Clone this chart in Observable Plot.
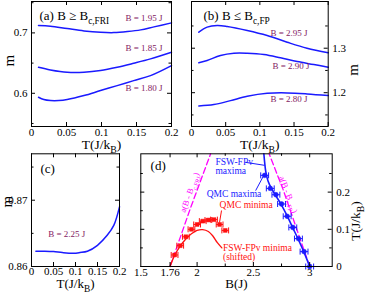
<!DOCTYPE html>
<html><head><meta charset="utf-8">
<script src="https://cdn.jsdelivr.net/npm/d3@7"></script>
<script src="https://cdn.jsdelivr.net/npm/@observablehq/plot@0.6"></script>
<style>
body{margin:0;background:#fff;}
#wrap{position:relative;width:366px;height:294px;overflow:hidden;background:#fff;}
.panel{position:absolute;}
.panel svg{display:block;font-family:"Liberation Serif","Times New Roman",Times,serif !important;font-size:11px;background:transparent !important;overflow:visible;}
.panel svg text{font-family:"Liberation Serif","Times New Roman",Times,serif !important;}
</style></head><body><div id="wrap"></div>
<script>
// ---------- data ----------
const tickT = [0, 0.05, 0.1, 0.15, 0.2];

// panel (a): m vs T
const a195 = [[0.01,0.7121],[0.027,0.711],[0.051,0.7071],[0.075,0.7033],[0.0986,0.701],[0.1176,0.7005],[0.137,0.7022],[0.156,0.705],[0.175,0.710],[0.2,0.7166]];
const a185 = [[0.01,0.643],[0.027,0.6387],[0.051,0.6348],[0.075,0.6348],[0.0986,0.6376],[0.1224,0.643],[0.146,0.6497],[0.17,0.657],[0.2,0.6679]];
const a180 = [[0.01,0.5934],[0.0176,0.5896],[0.0271,0.5879],[0.039,0.5879],[0.051,0.5896],[0.075,0.5962],[0.0986,0.6045],[0.1224,0.6127],[0.146,0.621],[0.17,0.6293],[0.2,0.6459]];
const aLabels = [{x:0.1343,y:0.7237,text:"B = 1.95 J"},{x:0.1343,y:0.674,text:"B = 1.85 J"},{x:0.1343,y:0.6094,text:"B = 1.80 J"}];
const aTitle = [{x:0.0114,y:0.7286,text:"(a) B ≥ B_{c,FRI}"}];

// panel (b)
const b295 = [[0.0107,1.336],[0.0229,1.3473],[0.0376,1.3511],[0.0522,1.3489],[0.0815,1.3399],[0.1107,1.3286],[0.14,1.3135],[0.169,1.3],[0.2,1.2896]];
const b290 = [[0.0107,1.2671],[0.0229,1.2723],[0.0424,1.2836],[0.062,1.2887],[0.0815,1.2887],[0.1059,1.2858],[0.1302,1.2784],[0.1546,1.27],[0.179,1.2633],[0.2,1.2572]];
const b280 = [[0.0107,1.1703],[0.0327,1.1732],[0.0571,1.1822],[0.0815,1.1919],[0.1107,1.1986],[0.14,1.1995],[0.169,1.1973],[0.2,1.1935]];
const bLabels = [{x:0.1156,y:1.3347,text:"B = 2.95 J"},{x:0.1185,y:1.2588,text:"B = 2.90 J"},{x:0.1156,y:1.1845,text:"B = 2.80 J"}];
const bTitle = [{x:0.0176,y:1.3736,text:"(b) B ≤ B_{c,FP}"}];

// panel (c)
const c225 = [[0.01,0.8623],[0.03,0.8623],[0.05,0.86225],[0.07,0.8621],[0.095,0.862],[0.11,0.8621],[0.127,0.8623],[0.15,0.8632],[0.172,0.8647],[0.187,0.8662],[0.2,0.869]];
const cLabels = [{x:0.038,y:0.8649,text:"B = 2.25 J"}];
const cTitle = [{x:0.0205,y:0.8747,text:"(c)"}];

// panel (d): T vs B
const fswMax = [[3.0,0],[2.95,0.038],[2.9,0.072],[2.85,0.104],[2.8,0.136],[2.75,0.165],[2.7,0.19],[2.66,0.21],[2.63,0.23],[2.61,0.255],[2.6,0.28],[2.593,0.303]];
const qmcMax = [[2.6,0.245],[2.65,0.21],[2.7,0.193],[2.75,0.168],[2.8,0.135],[2.85,0.105],[2.9,0.075],[2.95,0.04],[3.0,0]];
const qmcMaxErr = 0.035;
const fswMin = [[1.76,0],[1.8,0.03],[1.85,0.055],[1.9,0.074],[1.95,0.088],[2.0,0.097],[2.05,0.099],[2.1,0.094],[2.14,0.082],[2.18,0.064],[2.22,0.05]];
const qmcMin = [[1.8,0.031],[1.85,0.056],[1.9,0.08],[1.95,0.1],[2.0,0.113],[2.05,0.122],[2.1,0.125],[2.15,0.126],[2.2,0.113],[2.25,0.097]];
const qmcMinErr = 0.03;
const dashFRI = [[1.76,0],[1.94,0.156],[2.12,0.303]];
const dashFP = [[3.0,0],[2.889,0.097],[2.765,0.206],[2.64,0.303]];
const dLeadersBlue = [{x1:2.43,y1:0.28,x2:2.6,y2:0.272},{x1:2.52,y1:0.204,x2:2.587,y2:0.242}];
const dLeadersRed = [{x1:2.217,y1:0.1505,x2:2.199,y2:0.118}];
const dTextBlue = [{x:2.163,y:0.2683,text:"FSW-FPv\nmaxima"},{x:2.085,y:0.1954,text:"QMC maxima"}];
const dTextRed = [{x:2.2,y:0.164,text:"QMC minima"},{x:2.23,y:0.0376,text:"FSW-FPv minima\n(shifted)"}];
const dTextMagL = [{x:1.935,y:0.199,text:"a(B - B_{c,FRI})"}];
const dTextMagR = [{x:2.81,y:0.1935,text:"a(B - B_{c,FP})"}];
const dTitle = [{x:1.587,y:0.2715,text:"(d)"}];
const dXLabels = [1.5, 1.76, 2, 2.5, 3];

// ---------- styling ----------
const FONT = "Liberation Serif";
const BLUE = "#1a1aff", RED = "#ff1010", MAG = "#ff00ff", PURP = "#84205f";
const wrap = document.getElementById("wrap");

function richify(root) {
  const NS = "http://www.w3.org/2000/svg";
  root.querySelectorAll("text").forEach(t => {
    const s = t.textContent;
    if (!/[_^]\{/.test(s)) return;
    t.textContent = "";
    const re = /([_^])\{([^}]*)\}/g;
    let last = 0, m, back = null;
    const add = (str, attrs) => {
      const ts = document.createElementNS(NS, "tspan");
      for (const k in attrs) ts.setAttribute(k, attrs[k]);
      ts.textContent = str;
      t.appendChild(ts);
    };
    while ((m = re.exec(s))) {
      const before = s.slice(last, m.index);
      if (before) { add(before, back ? {dy: back} : {}); back = null; }
      const sh = m[1] === "_" ? 0.3 : -0.4;
      add(m[2], {"font-size": "72%", dy: (sh / 0.72).toFixed(3) + "em"});
      back = (-sh) + "em";
      last = re.lastIndex;
    }
    if (last < s.length) add(s.slice(last), back ? {dy: back} : {});
  });
}

const vbar = {draw(ctx, size) { const h = Math.sqrt(size / Math.PI); ctx.moveTo(0, -h); ctx.lineTo(0, h); }};
const X = d => d[0], Y = d => d[1];

function makePanel(o) {
  const fw = o.width - o.ml - o.mr, fh = o.height - o.mt - o.mb;
  const ticks = [];
  const MAJ = 4, MIN = 2.5;
  [[o.xMajor, MAJ], [o.xMinor || [], MIN]].forEach(([arr, len]) => {
    if (!arr.length) return;
    ticks.push(Plot.tickX(arr, {x: d => d, insetTop: fh - len, stroke: "black"}));
    ticks.push(Plot.tickX(arr, {x: d => d, insetBottom: fh - len, stroke: "black"}));
  });
  [[o.yMajor, MAJ], [o.yMinor || [], MIN]].forEach(([arr, len]) => {
    if (!arr.length) return;
    ticks.push(Plot.tickY(arr, {y: d => d, insetRight: fw - len, stroke: "black"}));
    ticks.push(Plot.tickY(arr, {y: d => d, insetLeft: fw - len, stroke: "black"}));
  });
  const svg = Plot.plot({
    width: o.width, height: o.height,
    marginTop: o.mt, marginRight: o.mr, marginBottom: o.mb, marginLeft: o.ml,
    style: {fontFamily: FONT, fontSize: "11px", background: "transparent", color: "black", overflow: "visible"},
    x: {domain: o.xDomain, ticks: o.xLabels, tickSize: 0, tickPadding: o.xPad ?? 2, tickFormat: d => String(d), label: null},
    y: {domain: o.yDomain, ticks: o.yLabels, tickSize: 0, tickPadding: 4, tickFormat: d => String(d), label: null, axis: o.yAxis},
    marks: [...o.marks, ...ticks, Plot.frame({stroke: "black"})]
  });
  richify(svg);
  const div = document.createElement("div");
  div.className = "panel";
  div.style.left = o.left + "px";
  div.style.top = o.top + "px";
  div.appendChild(svg);
  wrap.appendChild(div);
}

const curve = (data) => Plot.line(data, {x: X, y: Y, stroke: BLUE, strokeWidth: 1.5, curve: "catmull-rom"});
const curveLabels = (data) => Plot.text(data, {x: "x", y: "y", text: "text", textAnchor: "start", fill: PURP, fontSize: 9, lineAnchor: "middle"});
const titleText = (data) => Plot.text(data, {x: "x", y: "y", text: "text", textAnchor: "start", fill: "black", fontSize: 13, lineAnchor: "middle"});
const xTitle = (s, dy, fs) => Plot.text([s], {text: d => d, frameAnchor: "bottom", dy, fontSize: fs, lineAnchor: "middle", fill: "black"});
const yTitle = (s, anchor, dx, dy, fs) => Plot.text([s], {text: d => d, frameAnchor: anchor, dx, dy, rotate: -90, fontSize: fs, lineAnchor: "middle", fill: "black"});

// (a)
makePanel({left: 0, top: 0, width: 180, height: 152, mt: 1, mr: 9, mb: 26, ml: 31,
  xDomain: [0, 0.2], yDomain: [0.545, 0.752], xLabels: tickT, xMajor: tickT,
  yLabels: [0.6, 0.7], yMajor: [0.6, 0.7], yMinor: [0.55, 0.65, 0.75], yAxis: "left",
  marks: [curve(a195), curve(a185), curve(a180), curveLabels(aLabels), titleText(aTitle),
    xTitle("T(J/k_{B})", 18, 13.5), yTitle("m", "left", -22.5, 2.5, 15)]});

// (b)
makePanel({left: 180, top: 0, width: 186, height: 152, mt: 1, mr: 38.3, mb: 26, ml: 11,
  xDomain: [0, 0.2], yDomain: [1.124, 1.405], xLabels: tickT, xMajor: tickT,
  yLabels: [1.2, 1.3], yMajor: [1.2, 1.3], yMinor: [1.15, 1.25, 1.35], yAxis: "right",
  marks: [curve(b295), curve(b290), curve(b280), curveLabels(bLabels), titleText(bTitle),
    xTitle("T(J/k_{B})", 18, 13.5), yTitle("m", "right", 24.8, 0, 15)]});

// (c)
makePanel({left: 0, top: 140, width: 130, height: 154, mt: 13.3, mr: 11, mb: 28, ml: 31, xPad: 1,
  xDomain: [0, 0.2], yDomain: [0.86, 0.877], xLabels: tickT, xMajor: tickT,
  yLabels: [0.86, 0.87], yMajor: [0.86, 0.87], yMinor: [0.865, 0.875], yAxis: "left",
  marks: [curve(c225), curveLabels(cLabels), titleText(cTitle),
    xTitle("T(J/k_{B})", 17.5, 13), yTitle("m", "left", -24.5, -2.6, 15)]});

// (d)
makePanel({left: 130, top: 140, width: 236, height: 154, mt: 13.3, mr: 34.3, mb: 28, ml: 10.3,
  xDomain: [1.5, 3.2], yDomain: [0, 0.303], xLabels: dXLabels, xMajor: [1.76, 2, 2.5, 3], xMinor: [2.25, 2.75],
  yLabels: [0, 0.1, 0.2], yMajor: [0, 0.1, 0.2], yMinor: [0.05, 0.15, 0.25], yAxis: "right",
  marks: [
    Plot.line(dashFRI, {x: X, y: Y, stroke: MAG, strokeWidth: 1.3, strokeDasharray: "6,3"}),
    Plot.line(dashFP, {x: X, y: Y, stroke: MAG, strokeWidth: 1.3, strokeDasharray: "6,3"}),
    Plot.line(fswMin, {x: X, y: Y, stroke: RED, strokeWidth: 1.3, curve: "catmull-rom"}),
    Plot.line(fswMax, {x: X, y: Y, stroke: BLUE, strokeWidth: 1.6, curve: "catmull-rom"}),
    Plot.link(qmcMin, {x1: d => d[0] - qmcMinErr, x2: d => d[0] + qmcMinErr, y1: Y, y2: Y, stroke: RED, strokeWidth: 1}),
    Plot.dot(qmcMin.flatMap(d => [[d[0] - qmcMinErr, d[1]], [d[0] + qmcMinErr, d[1]]]), {x: X, y: Y, symbol: vbar, r: 3, fill: "none", stroke: RED, strokeWidth: 1}),
    Plot.dot(qmcMin, {x: X, y: Y, symbol: "square", r: 2.2, fill: RED, stroke: RED, strokeWidth: 0.5}),
    Plot.link(qmcMax, {x1: d => d[0] - qmcMaxErr, x2: d => d[0] + qmcMaxErr, y1: Y, y2: Y, stroke: BLUE, strokeWidth: 1}),
    Plot.dot(qmcMax.flatMap(d => [[d[0] - qmcMaxErr, d[1]], [d[0] + qmcMaxErr, d[1]]]), {x: X, y: Y, symbol: vbar, r: 3, fill: "none", stroke: BLUE, strokeWidth: 1}),
    Plot.dot(qmcMax, {x: X, y: Y, r: 2.4, fill: BLUE, stroke: BLUE, strokeWidth: 0.5}),
    Plot.link(dLeadersBlue, {x1: "x1", y1: "y1", x2: "x2", y2: "y2", stroke: BLUE, strokeWidth: 1}),
    Plot.link(dLeadersRed, {x1: "x1", y1: "y1", x2: "x2", y2: "y2", stroke: RED, strokeWidth: 1}),
    Plot.text(dTextBlue, {x: "x", y: "y", text: "text", textAnchor: "start", lineAnchor: "middle", fill: BLUE, fontSize: 9.5, lineHeight: 0.95}),
    Plot.text(dTextRed, {x: "x", y: "y", text: "text", textAnchor: "start", lineAnchor: "middle", fill: RED, fontSize: 9.5, lineHeight: 0.98}),
    Plot.text(dTextMagL, {x: "x", y: "y", text: "text", rotate: -70, fill: MAG, fontSize: 8.5, lineAnchor: "middle"}),
    Plot.text(dTextMagR, {x: "x", y: "y", text: "text", rotate: 70, fill: MAG, fontSize: 8.5, lineAnchor: "middle"}),
    titleText(dTitle),
    xTitle("B(J)", 17.3, 13),
    yTitle("T(J/k_{B})", "right", 23.5, -9, 13.5)
  ]});
</script></body></html>
